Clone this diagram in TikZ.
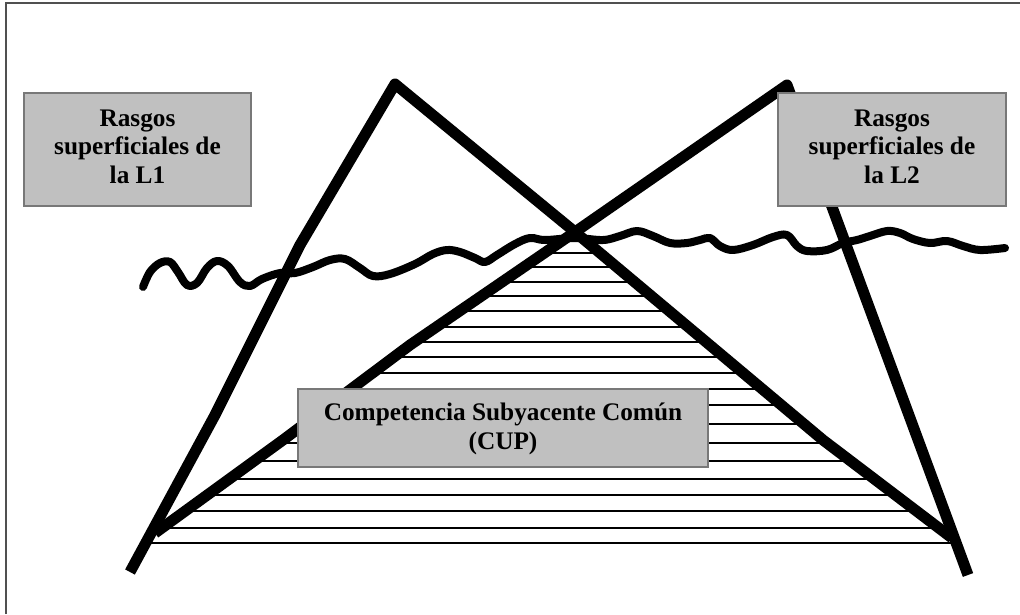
\documentclass[tikz,border=0pt]{standalone}
\usepackage{fontspec}
\setmainfont{Liberation Serif}
\definecolor{boxfill}{RGB}{192,192,192}
\definecolor{boxedge}{RGB}{120,120,120}
\definecolor{framecol}{RGB}{80,80,80}
\begin{document}
\begin{tikzpicture}[x=1pt,y=-1pt,
  leg/.style={line width=11pt, line join=round},
  wavy/.style={line width=8pt, line cap=round, line join=round},
  hatchline/.style={line width=2.2pt},
  graybox/.style={draw=boxedge, fill=boxfill, line width=1.6pt, inner sep=0pt, align=center,
    font=\fontsize{25.3}{28.5}\selectfont\bfseries}]
\useasboundingbox (0,0) rectangle (1020,614);
% hatching of the common area
\begin{scope}
\clip (575,232) -- (823,440) -- (952,537) -- (962,552) -- (135,552) -- (155,533)
  -- (283,440) -- (410,345) -- cycle;
\foreach \yy in {253,267,282,296,311,327,342,357,373,389,405,424,443,461,479,495,511,528,543}
  \draw[hatchline] (100,\yy) -- (1000,\yy);
\end{scope}
% wavy surface line
\draw[wavy] plot[smooth, tension=0.6] coordinates {
  (143,287) (150,272) (160,263) (170,262) (178,272) (187,285) (197,283) (207,268)
  (217,261) (228,266) (240,282) (250,286) (262,279) (280,273) (295,273) (313,267)
  (330,260) (345,259) (360,268) (373,276) (390,274) (415,264) (433,254) (447,250)
  (460,252) (475,258) (485,262) (497,255) (515,244) (530,238) (545,240) (575,238)
  (603,240) (620,236) (637,231) (653,236) (670,243) (687,243) (700,240) (710,238)
  (720,246) (733,250) (753,245) (773,237) (787,235) (797,246) (807,251) (827,250)
  (843,243) (857,240) (870,236) (887,231) (900,233) (913,239) (930,243) (947,241)
  (963,246) (980,250) (1005,248)};
% L1 triangle
\draw[leg] (130,572) -- (215,415) -- (300,245) -- (395,84) -- (575,232) -- (823,440) -- (952,538);
% L2 triangle
\draw[leg] (155,533) -- (283,440) -- (410,345) -- (575,232) -- (787,85) -- (968,575);
% boxes
\node[graybox, minimum width=227pt, minimum height=113pt, text depth=6pt] (l1box) at (137.5,149.5)
  {Rasgos\\superficiales de\\la L1};
\node[graybox, minimum width=228pt, minimum height=113pt, text depth=6pt] (l2box) at (892,149.5)
  {Rasgos\\superficiales de\\la L2};
\node[graybox, minimum width=410pt, minimum height=78pt, text depth=4pt] (cupbox) at (503,428)
  {Competencia Subyacente Común\\(CUP)};
% frame
\draw[framecol, line width=2pt] (6,614) -- (6,3) -- (1020,3);
\end{tikzpicture}
\end{document}
